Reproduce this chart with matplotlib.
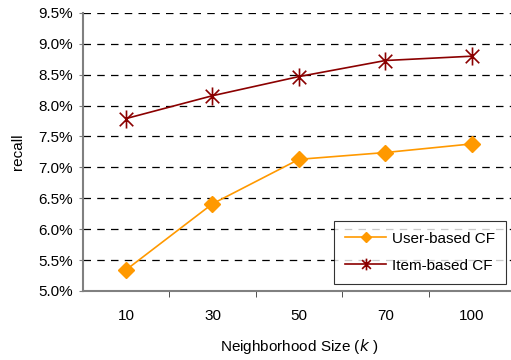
import matplotlib.pyplot as plt
from matplotlib.path import Path
from matplotlib.ticker import FuncFormatter, FixedLocator

plt.rcParams['font.family'] = ['Liberation Sans', 'DejaVu Sans']

# Dados
k_labels = ['10', '30', '50', '70', '100']
user_cf = [5.34, 6.41, 7.13, 7.24, 7.38]
item_cf = [7.79, 8.16, 8.47, 8.73, 8.80]

# Marcador asterisco: linha vertical + X
star = Path([(0, -1), (0, 1), (-0.75, -0.75), (0.75, 0.75), (-0.75, 0.75), (0.75, -0.75)],
            [Path.MOVETO, Path.LINETO, Path.MOVETO, Path.LINETO, Path.MOVETO, Path.LINETO])

fig = plt.figure(figsize=(5.11, 3.6), dpi=100)
ax = fig.add_axes([0.162, 0.192, 0.846, 0.772])

x = list(range(len(k_labels)))
ax.plot(x, user_cf, color='#FF9900', lw=1.2, marker='D', ms=8, label='User-based CF', zorder=3)
ax.plot(x, item_cf, color='#8B0000', lw=1.2, marker=star, ms=13, mew=1.2, label='Item-based CF', zorder=3)

ax.set_xlim(-0.5, 4.5)
ax.set_ylim(5.0, 9.5)
ax.set_yticks([5.0 + 0.5 * i for i in range(10)])
ax.yaxis.set_major_formatter(FuncFormatter(lambda v, p: f'{v:.1f}%'))
ax.set_xticks(x)
ax.set_xticklabels(k_labels)
ax.xaxis.set_minor_locator(FixedLocator([0.5, 1.5, 2.5, 3.5]))
ax.tick_params(axis='x', which='major', length=0, pad=13, labelsize=11)
ax.tick_params(axis='x', which='minor', length=4, direction='out', color='#333333')
ax.tick_params(axis='y', length=3, direction='out', color='#808080', labelsize=11, pad=4)

for v in ax.get_yticks()[1:]:
    ax.axhline(v, color='black', lw=0.9, ls=(0, (6, 5)), zorder=1)

for s in ['top', 'right']:
    ax.spines[s].set_visible(False)
for s in ['left', 'bottom']:
    ax.spines[s].set_color('#808080')
    ax.spines[s].set_linewidth(1.5)

ax.set_ylabel('recall', fontsize=11, labelpad=10)
ax.set_xlabel('Neighborhood Size ($\\it{k}$ )', fontsize=11, labelpad=10)

leg = ax.legend(loc='lower right', bbox_to_anchor=(0.99, 0.01), fontsize=11, frameon=True,
                fancybox=False, edgecolor='black', handlelength=2.7, markerscale=0.65,
                borderpad=0.7, labelspacing=0.85, handletextpad=0.4, borderaxespad=0.3)
leg.get_frame().set_linewidth(0.8)

fig.savefig('out.png', dpi=100)
